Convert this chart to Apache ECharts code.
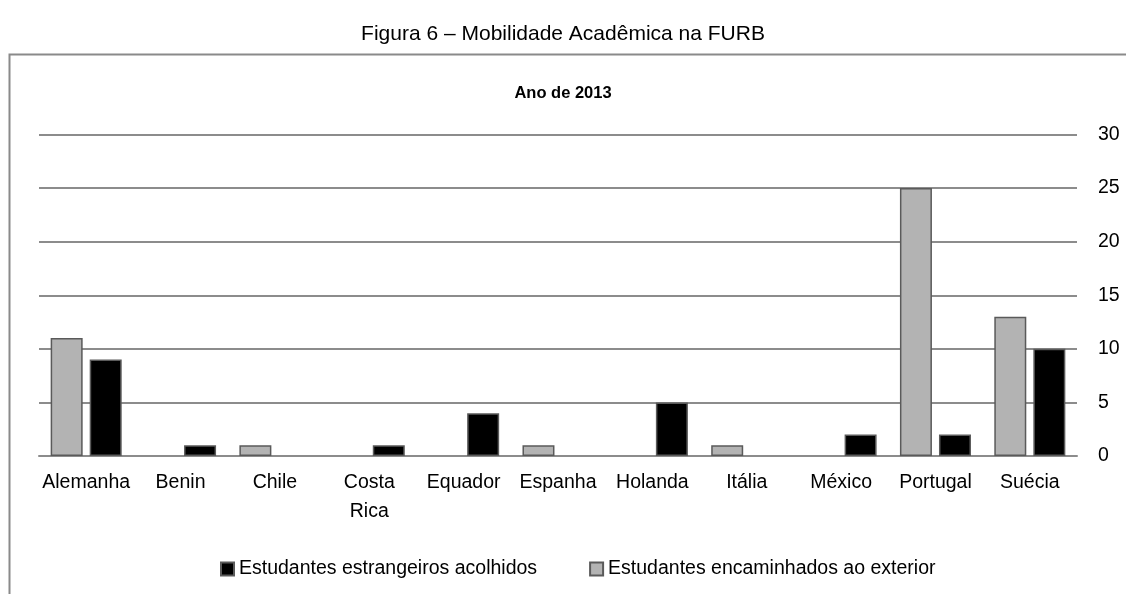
<!DOCTYPE html>
<html>
<head>
<meta charset="utf-8">
<script src="https://cdn.jsdelivr.net/npm/echarts@6/dist/echarts.min.js"></script>
<style>
html,body{margin:0;padding:0;background:#fff;}
#c{width:1126px;height:594px;}
</style>
</head>
<body>
<div id="c"></div>
<script>
const categories = ['Alemanha','Benin','Chile','Costa Rica','Equador','Espanha','Holanda','Itália','México','Portugal','Suécia'];
const encaminhados = [11, 0, 1, 0, 0, 1, 0, 1, 0, 25, 13];
const acolhidos = [9, 1, 0, 1, 4, 0, 5, 0, 2, 2, 10];
const yTicks = [0, 5, 10, 15, 20, 25, 30];
const nameAcolhidos = 'Estudantes estrangeiros acolhidos';
const nameEncaminhados = 'Estudantes encaminhados ao exterior';

const FONT = "'Liberation Sans', Arial, sans-serif";
const hideZero = arr => arr.map(v => v === 0 ? {value: v, itemStyle: {borderWidth: 0, opacity: 0}} : v);

const chart = echarts.init(document.getElementById('c'), null, {renderer: 'canvas'});
chart.setOption({
  animation: false,
  backgroundColor: '#fff',
  title: [
    {text: 'Figura 6 – Mobilidade Acadêmica na FURB', left: 'center', top: 19,
     textStyle: {fontFamily: FONT, fontSize: 21, fontWeight: 'normal', color: '#000'}},
    {text: 'Ano de 2013', left: 'center', top: 80,
     textStyle: {fontFamily: FONT, fontSize: 16.5, fontWeight: 'bold', color: '#000'}}
  ],
  graphic: [{
    type: 'rect', silent: true,
    shape: {x: 9.5, y: 54.5, width: 1200, height: 700},
    style: {fill: 'none', stroke: '#8a8a8a', lineWidth: 2}
  }],
  legend: {
    data: [nameAcolhidos, nameEncaminhados],
    left: 215, top: 554,
    itemWidth: 13, itemHeight: 13, itemGap: 52,
    icon: 'rect',
    textStyle: {fontFamily: FONT, fontSize: 19.5, color: '#000'}
  },
  grid: {left: 39, right: 49, top: 134.5, bottom: 138, containLabel: false},
  xAxis: {
    type: 'category', data: categories,
    axisTick: {show: false},
    axisLine: {lineStyle: {color: '#8c8c8c', width: 2}},
    axisLabel: {interval: 0, fontFamily: FONT, fontSize: 19.5, color: '#000', margin: 12, lineHeight: 29,
      formatter: v => v.replace(' ', '\n')}
  },
  yAxis: {
    type: 'value', position: 'right', min: 0, max: 30, interval: 5,
    axisLine: {show: false}, axisTick: {show: false},
    splitLine: {lineStyle: {color: '#8c8c8c', width: 2}},
    axisLabel: {fontFamily: FONT, fontSize: 19.5, color: '#000', margin: 21,
      formatter: v => yTicks.includes(v) ? String(v) : ''}
  },
  series: [
    {name: nameEncaminhados, type: 'bar', data: hideZero(encaminhados), barWidth: 32, barGap: '22%',
     itemStyle: {color: '#b3b3b3', borderColor: '#5a5a5a', borderWidth: 1.5}},
    {name: nameAcolhidos, type: 'bar', data: hideZero(acolhidos), barWidth: 32, barGap: '22%',
     itemStyle: {color: '#000000', borderColor: '#5a5a5a', borderWidth: 1.5}}
  ]
});
</script>
</body>
</html>
